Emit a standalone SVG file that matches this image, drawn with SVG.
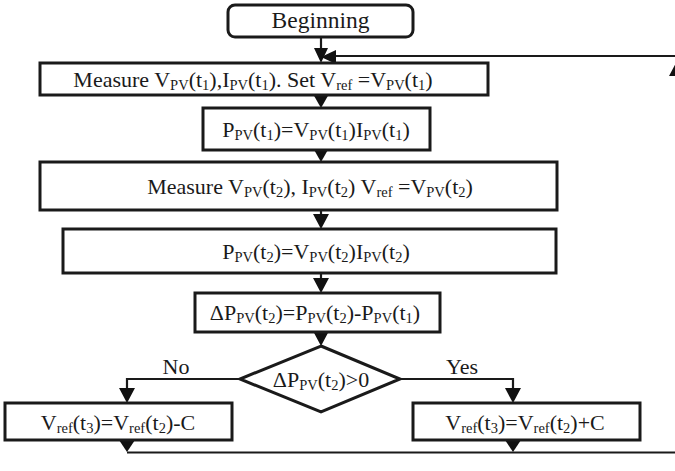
<svg xmlns="http://www.w3.org/2000/svg" width="675" height="471" viewBox="0 0 675 471">
<style>
.box{fill:#fff;stroke:#1a1a1a;stroke-width:3}
.ln{fill:none;stroke:#1a1a1a;stroke-width:2.2}
.ah{fill:#111}
.t{font-family:'Liberation Serif','Times New Roman',serif;font-size:22px;fill:#1a1a1a}
.s{font-size:14.5px}
</style>
<rect width="675" height="471" fill="#fff"/>
<g id="connectors">
<line class="ln" x1="321" y1="37" x2="321" y2="52"/>
<polygon class="ah" points="314,48 328,48 321,63"/>
<polyline class="ln" points="680,56 330,56"/>
<polygon class="ah" points="321,57 336,50 336,64"/>
<line class="ln" x1="677" y1="70" x2="677" y2="471"/>
<polygon class="ah" points="677,61 669,76 685,76"/>
<line class="ln" x1="321" y1="95" x2="321" y2="100"/>
<polygon class="ah" points="313,94 329,94 321,108"/>
<line class="ln" x1="321" y1="150" x2="321" y2="155"/>
<polygon class="ah" points="313,148 329,148 321,162"/>
<line class="ln" x1="321" y1="210" x2="321" y2="218"/>
<polygon class="ah" points="313,214 329,214 321,229"/>
<line class="ln" x1="321" y1="273" x2="321" y2="282"/>
<polygon class="ah" points="313,278 329,278 321,293"/>
<line class="ln" x1="321" y1="332" x2="321" y2="336"/>
<polygon class="ah" points="313,331 329,331 321,346"/>
<polyline class="ln" points="240,379 127,379 127,392"/>
<polygon class="ah" points="119,388 135,388 127,403"/>
<polyline class="ln" points="400,379 513,379 513,392"/>
<polygon class="ah" points="505,388 521,388 513,403"/>
<line class="ln" x1="127" y1="440" x2="127" y2="446"/>
<polygon class="ah" points="119,440 135,440 127,452"/>
<line class="ln" x1="513" y1="440" x2="513" y2="446"/>
<polygon class="ah" points="505,440 521,440 513,452"/>
<polyline class="ln" points="127,452.5 680,452.5"/>
</g>
<g id="begin">
<rect class="box" x="228" y="5" width="185" height="32" rx="7"/>
<text class="t" style="font-size:23.5px" x="320.5" y="28" text-anchor="middle">Beginning</text>
</g>
<g id="measure1">
<rect class="box" x="40" y="63" width="448" height="32"/>
<text class="t" x="253" y="87" text-anchor="middle">Measure V<tspan class="s" dy="3">PV</tspan><tspan dy="-3">(t</tspan><tspan class="s" dy="3">1</tspan><tspan dy="-3">),I</tspan><tspan class="s" dy="3">PV</tspan><tspan dy="-3">(t</tspan><tspan class="s" dy="3">1</tspan><tspan dy="-3">). Set V</tspan><tspan class="s" dy="3">ref</tspan><tspan dy="-3"> =V</tspan><tspan class="s" dy="3">PV</tspan><tspan dy="-3">(t</tspan><tspan class="s" dy="3">1</tspan><tspan dy="-3">)</tspan></text>
</g>
<g id="power1">
<rect class="box" x="203" y="108" width="227" height="42"/>
<text class="t" x="316" y="137" text-anchor="middle">P<tspan class="s" dy="3">PV</tspan><tspan dy="-3">(t</tspan><tspan class="s" dy="3">1</tspan><tspan dy="-3">)=V</tspan><tspan class="s" dy="3">PV</tspan><tspan dy="-3">(t</tspan><tspan class="s" dy="3">1</tspan><tspan dy="-3">)I</tspan><tspan class="s" dy="3">PV</tspan><tspan dy="-3">(t</tspan><tspan class="s" dy="3">1</tspan><tspan dy="-3">)</tspan></text>
</g>
<g id="measure2">
<rect class="box" x="40" y="162" width="517" height="48"/>
<text class="t" x="310" y="194" text-anchor="middle">Measure V<tspan class="s" dy="3">PV</tspan><tspan dy="-3">(t</tspan><tspan class="s" dy="3">2</tspan><tspan dy="-3">), I</tspan><tspan class="s" dy="3">PV</tspan><tspan dy="-3">(t</tspan><tspan class="s" dy="3">2</tspan><tspan dy="-3">) V</tspan><tspan class="s" dy="3">ref</tspan><tspan dy="-3"> =V</tspan><tspan class="s" dy="3">PV</tspan><tspan dy="-3">(t</tspan><tspan class="s" dy="3">2</tspan><tspan dy="-3">)</tspan></text>
</g>
<g id="power2">
<rect class="box" x="63" y="229" width="493" height="44"/>
<text class="t" x="316" y="259" text-anchor="middle">P<tspan class="s" dy="3">PV</tspan><tspan dy="-3">(t</tspan><tspan class="s" dy="3">2</tspan><tspan dy="-3">)=V</tspan><tspan class="s" dy="3">PV</tspan><tspan dy="-3">(t</tspan><tspan class="s" dy="3">2</tspan><tspan dy="-3">)I</tspan><tspan class="s" dy="3">PV</tspan><tspan dy="-3">(t</tspan><tspan class="s" dy="3">2</tspan><tspan dy="-3">)</tspan></text>
</g>
<g id="delta">
<rect class="box" x="195" y="293" width="245" height="39"/>
<text class="t" x="315" y="320" text-anchor="middle">ΔP<tspan class="s" dy="3">PV</tspan><tspan dy="-3">(t</tspan><tspan class="s" dy="3">2</tspan><tspan dy="-3">)=P</tspan><tspan class="s" dy="3">PV</tspan><tspan dy="-3">(t</tspan><tspan class="s" dy="3">2</tspan><tspan dy="-3">)-P</tspan><tspan class="s" dy="3">PV</tspan><tspan dy="-3">(t</tspan><tspan class="s" dy="3">1</tspan><tspan dy="-3">)</tspan></text>
</g>
<g id="decision">
<polygon class="box" points="321,346 400,379 321,412 240,379"/>
<text class="t" x="321" y="387" text-anchor="middle">ΔP<tspan class="s" dy="3">PV</tspan><tspan dy="-3">(t</tspan><tspan class="s" dy="3">2</tspan><tspan dy="-3">)&gt;0</tspan></text>
</g>
<g id="labels">
<text class="t" x="176" y="374" text-anchor="middle">No</text>
<text class="t" x="462" y="374" text-anchor="middle">Yes</text>
</g>
<g id="decrease">
<rect class="box" x="5" y="403" width="227" height="37"/>
<text class="t" x="118" y="430" text-anchor="middle">V<tspan class="s" dy="3">ref</tspan><tspan dy="-3">(t</tspan><tspan class="s" dy="3">3</tspan><tspan dy="-3">)=V</tspan><tspan class="s" dy="3">ref</tspan><tspan dy="-3">(t</tspan><tspan class="s" dy="3">2</tspan><tspan dy="-3">)-C</tspan></text>
</g>
<g id="increase">
<rect class="box" x="413" y="403" width="227" height="37"/>
<text class="t" x="525" y="430" text-anchor="middle">V<tspan class="s" dy="3">ref</tspan><tspan dy="-3">(t</tspan><tspan class="s" dy="3">3</tspan><tspan dy="-3">)=V</tspan><tspan class="s" dy="3">ref</tspan><tspan dy="-3">(t</tspan><tspan class="s" dy="3">2</tspan><tspan dy="-3">)+C</tspan></text>
</g>
</svg>
